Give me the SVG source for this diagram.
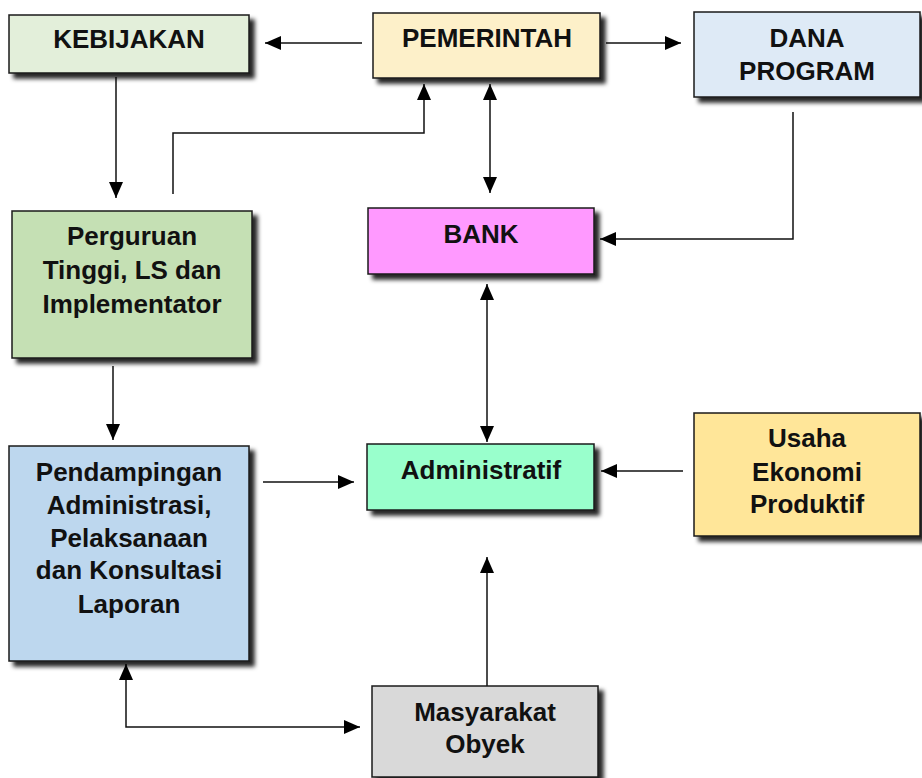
<svg xmlns="http://www.w3.org/2000/svg" width="922" height="778" viewBox="0 0 922 778">
  <style>
    .box { stroke: #1a1a1a; stroke-width: 1.5; filter: url(#shadow); }
    .lbl { font-family: "Liberation Sans", Arial, sans-serif; font-weight: bold; font-size: 26px; fill: #111; text-anchor: middle; }
    .wire { fill: none; stroke: #111; stroke-width: 1.5; }
    .fwd { marker-end: url(#head); }
    .both { marker-start: url(#head); marker-end: url(#head); }
  </style>
  <defs>
    <filter id="shadow" x="-10%" y="-10%" width="130%" height="130%">
      <feDropShadow dx="5" dy="5" stdDeviation="2.2" flood-color="#000" flood-opacity="0.85"/>
    </filter>
    <marker id="head" viewBox="0 0 16 14" refX="16" refY="7" markerWidth="16" markerHeight="14" markerUnits="userSpaceOnUse" orient="auto-start-reverse">
      <path d="M0,0 L16,7 L0,14 Z" fill="#000"/>
    </marker>
  </defs>
  <rect width="922" height="778" fill="#fff"/>

  <!-- connectors -->
  <g id="connectors">
    <path class="wire fwd" d="M362,43 H265"/>
    <path class="wire fwd" d="M606,43 H681"/>
    <path class="wire fwd" d="M793,112 V239 H600"/>
    <path class="wire fwd" d="M116,77 V198"/>
    <path class="wire fwd" d="M173,194 V133 H424 V84"/>
    <path class="wire both" d="M490,84 V193"/>
    <path class="wire both" d="M487,284 V442"/>
    <path class="wire fwd" d="M113,366 V440"/>
    <path class="wire fwd" d="M263,482 H354"/>
    <path class="wire fwd" d="M683,471 H601"/>
    <path class="wire fwd" d="M487,686 V557"/>
    <path class="wire both" d="M126,664 V727 H360"/>
  </g>

  <g id="kebijakan">
    <rect class="box" x="9" y="15" width="240" height="58" fill="#e3efda"/>
    <text class="lbl" x="129" y="48">KEBIJAKAN</text>
  </g>

  <g id="pemerintah">
    <rect class="box" x="373" y="13" width="227" height="65" fill="#fdf0c9"/>
    <text class="lbl" x="487" y="47">PEMERINTAH</text>
  </g>

  <g id="dana-program">
    <rect class="box" x="694" y="12" width="226" height="85" fill="#deeaf6"/>
    <text class="lbl" x="807" y="47">DANA</text>
    <text class="lbl" x="807" y="80">PROGRAM</text>
  </g>

  <g id="perguruan-tinggi">
    <rect class="box" x="12" y="211" width="240" height="147" fill="#c5e0b4"/>
    <text class="lbl" x="132" y="245">Perguruan</text>
    <text class="lbl" x="132" y="279">Tinggi, LS dan</text>
    <text class="lbl" x="132" y="313">Implementator</text>
  </g>

  <g id="bank">
    <rect class="box" x="368" y="208" width="226" height="66" fill="#ff99ff"/>
    <text class="lbl" x="481" y="243">BANK</text>
  </g>

  <g id="pendampingan">
    <rect class="box" x="9" y="446" width="240" height="215" fill="#bdd7ee"/>
    <text class="lbl" x="129" y="481">Pendampingan</text>
    <text class="lbl" x="129" y="514">Administrasi,</text>
    <text class="lbl" x="129" y="547">Pelaksanaan</text>
    <text class="lbl" x="129" y="579">dan Konsultasi</text>
    <text class="lbl" x="129" y="613">Laporan</text>
  </g>

  <g id="administratif">
    <rect class="box" x="367" y="444" width="227" height="66" fill="#99ffcc"/>
    <text class="lbl" x="481" y="479">Administratif</text>
  </g>

  <g id="usaha-ekonomi">
    <rect class="box" x="694" y="413" width="226" height="123" fill="#ffe699"/>
    <text class="lbl" x="807" y="447">Usaha</text>
    <text class="lbl" x="807" y="481">Ekonomi</text>
    <text class="lbl" x="807" y="513">Produktif</text>
  </g>

  <g id="masyarakat">
    <rect class="box" x="372" y="686" width="226" height="91" fill="#d9d9d9"/>
    <text class="lbl" x="485" y="721">Masyarakat</text>
    <text class="lbl" x="485" y="753">Obyek</text>
  </g>
</svg>
